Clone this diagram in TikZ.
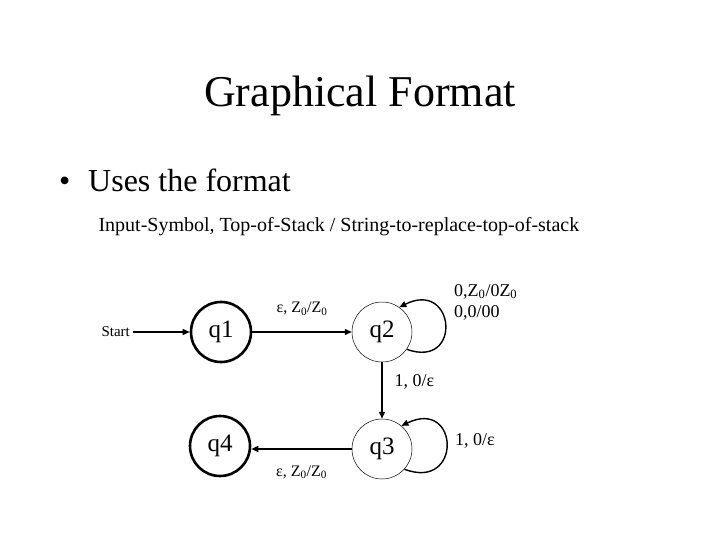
\documentclass[tikz,border=0pt]{standalone}
\usepackage{fontspec}
\setmainfont{Liberation Serif}
\usetikzlibrary{arrows.meta}
\tikzset{
  state/.style={circle, draw, minimum size=60pt, inner sep=0pt, font=\fontsize{25}{28}\selectfont},
  final/.style={state, line width=2.6pt},
  plain/.style={state, line width=0.5pt},
  edge/.style={line width=1.4pt, -{Triangle[length=7pt,width=6pt]}},
  lbl/.style={font=\fontsize{16}{19}\selectfont, inner sep=0pt},
  biglbl/.style={font=\fontsize{18}{21}\selectfont, inner sep=0pt},
}
\newcommand{\zs}{Z\textsubscript{0}}
\begin{document}
\begin{tikzpicture}[x=1pt,y=1pt]
\useasboundingbox (0,0) rectangle (720,-540);
\node (title) at (360,-96) {\fontsize{44}{50}\selectfont Graphical Format};
\node[anchor=base west, font=\fontsize{32}{36}\selectfont, inner sep=0pt] (dot) at (59,-192) {\textbullet};
\node[anchor=base west, font=\fontsize{32}{36}\selectfont, inner sep=0pt] (bullet) at (88,-192) {Uses the format};
\node[anchor=west] (fmt) at (95,-227) {\fontsize{20}{24}\selectfont Input-Symbol, Top-of-Stack / String-to-replace-top-of-stack};

\node[final] (q1) at (221,-332) {q1};
\node[plain] (q2) at (382,-332) {q2};
\node[plain] (q3) at (382,-449) {q3};
\node[final] (q4) at (220,-446) {q4};
\node[anchor=west, font=\fontsize{15}{17}\selectfont] (start) at (98,-332) {Start};

\draw[edge] (start) -- (q1);
\draw[edge] (q1) -- node[lbl, above=16pt] {ε, \zs/\zs} (q2);
\draw[edge] (q2) -- node[biglbl, right=12pt, pos=0.35] {1, 0/ε} (q3);
\draw[edge] (q3.west) -- (q3.west -| q4.east) node[lbl, midway, below=16pt] {ε, \zs/\zs};

\draw[edge] (q2.-35) .. controls +(56,-20) and +(56,28) .. (q2.55);
\draw[edge] (q3.-42) .. controls +(58,-22) and +(58,28) .. (q3.50);

\node[biglbl, anchor=south west] (l2a) at (454,-299) {0,\zs/0\zs};
\node[biglbl, anchor=south west] (l2b) at (454,-320) {0,0/00};
\node[biglbl, anchor=west] (l3) at (455,-441) {1, 0/ε};
\end{tikzpicture}
\end{document}
